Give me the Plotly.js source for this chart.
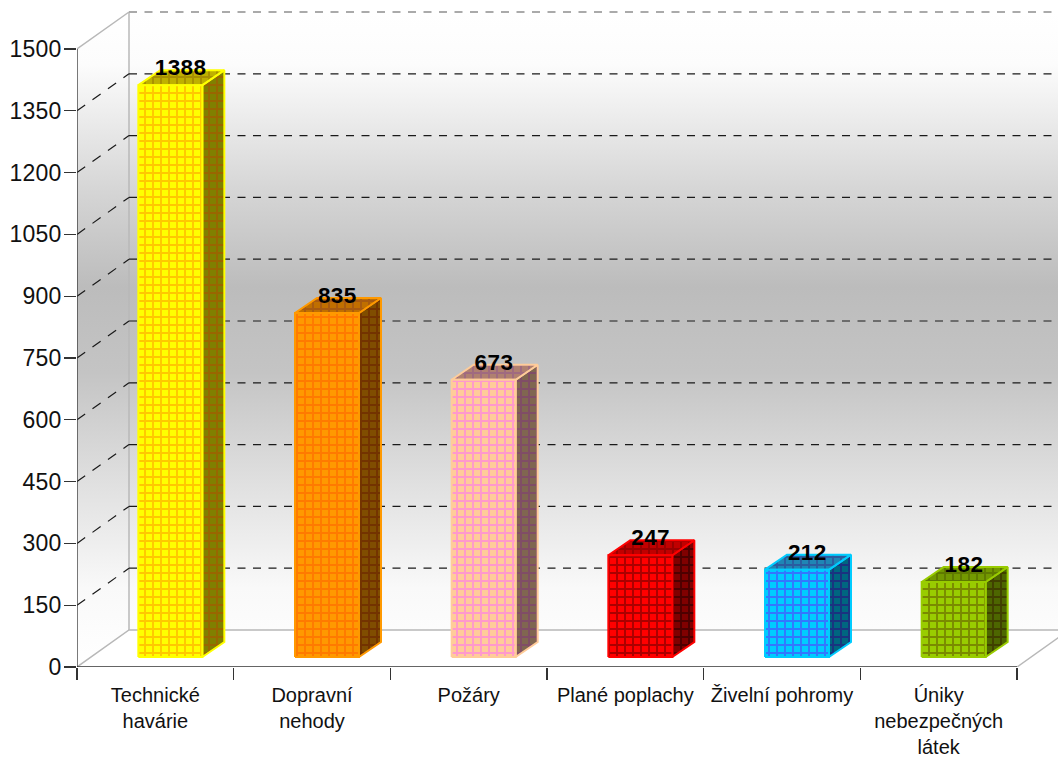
<!DOCTYPE html>
<html><head><meta charset="utf-8">
<script src="https://cdn.plot.ly/plotly-3.0.1.min.js"></script>
<style>html,body{margin:0;padding:0;background:#fff;overflow:hidden}
.textpoint text{letter-spacing:0.4px}
.ytick text{letter-spacing:0.2px}</style>
</head><body><div id="chart" style="width:1058px;height:758px"></div>
<script>
const categories = ["Technické<br>havárie","Dopravní<br>nehody","Požáry","Plané poplachy","Živelní pohromy","Úniky<br>nebezpečných<br>látek"];
const values = [1388,835,673,247,212,182];
const yTicks = [0,150,300,450,600,750,900,1050,1200,1350,1500];

const frontColor = ["#ffff00","#ff9900","#ffcc99","#ff0000","#00ccff","#99cc00"];
const frontGrid  = ["#ffc800","#ff7a00","#ff99cc","#aa0000","#3377ff","#7a8a00"];
const sideColor  = ["#808000","#804d00","#806650","#800000","#006680","#4d6600"];
const sideGrid   = ["#996600","#733300","#804d66","#4d0000","#1a3380","#404000"];
const topColor   = ["#bfb000","#c06f00","#b08070","#c00000","#1f86b5","#739900"];
const topGrid    = ["#a89000","#a85a10","#a06a80","#990000","#2a5ca0","#5f7a00"];

const pxX = 940/6, pxY = 618/1500;
const depthX = 52/pxX, depthY = 37/pxY;
const barW = 64/pxX;
const fx0 = 15/pxX, fy0 = 10/pxY, fx1 = 37/pxX, fy1 = 25/pxY;
const xMax = 981/pxX, yMax = 666/pxY;
const nCat = categories.length, yTop = yTicks[yTicks.length-1];

const wallScale = [[0,"#ffffff"],[0.08,"#fcfcfc"],[0.27,"#d6d6d6"],[0.42,"#bcbcbc"],[0.55,"#c4c4c4"],[0.72,"#e0e0e0"],[0.88,"#f9f9f9"],[1,"#ffffff"]];
const grad = {type:"vertical",colorscale:wallScale,start:yTop+depthY,stop:0};
const base = {hoverinfo:"skip",showlegend:false};
const traces = [];
// left wall
traces.push({...base,type:"scatter",mode:"none",fill:"toself",fillgradient:grad,
  x:[0,depthX,depthX,0],y:[0,depthY,yTop+depthY,yTop]});
// back wall
traces.push({...base,type:"scatter",mode:"none",fill:"toself",fillgradient:grad,
  x:[depthX,nCat+depthX,nCat+depthX,depthX],y:[depthY,depthY,yTop+depthY,yTop+depthY]});
// wall edges
traces.push({...base,type:"scatter",mode:"lines",line:{color:"#b8b8b8",width:1.5},
  x:[0,depthX,nCat+depthX,null,depthX,depthX,null,0,depthX,null,nCat,nCat+depthX],
  y:[0,depthY,depthY,null,depthY,yTop+depthY,null,yTop,yTop+depthY,null,0,depthY]});
// gridlines
const inner = yTicks.slice(1,-1);
traces.push({...base,type:"scatter",mode:"lines",line:{color:"#1a1a1a",width:1.2,dash:"8px,7.5px"},
  x:inner.flatMap(()=>[depthX,nCat+depthX,null]),y:inner.flatMap(t=>[t+depthY,t+depthY,null])});
traces.push({...base,type:"scatter",mode:"lines",line:{color:"#1a1a1a",width:1.2,dash:"10px,9px"},
  x:inner.flatMap(()=>[0,depthX,null]),y:inner.flatMap(t=>[t,t+depthY,null])});
traces.push({...base,type:"scatter",mode:"lines",line:{color:"#aaaaaa",width:2,dash:"8px,7.5px"},
  x:[depthX,nCat+depthX],y:[yTop+depthY,yTop+depthY]});
// bars
const pat=(bg,fg)=>({shape:"+",bgcolor:bg,fgcolor:fg,size:8,solidity:0.42});
values.forEach((v,i)=>{
  const c=i+0.5;
  const x0=c-barW/2+fx0, x1=c+barW/2+fx0, dx=fx1-fx0, dy=fy1-fy0;
  const y0=fy0, y1=v+fy0;
  const poly=(xs,ys,bg,fg)=>traces.push({...base,type:"scatter",mode:"lines",fill:"toself",fillcolor:bg,
    fillpattern:pat(bg,fg),line:{color:frontColor[i],width:2},x:xs,y:ys});
  poly([x1,x1+dx,x1+dx,x1,x1],[y0,y0+dy,y1+dy,y1,y0],sideColor[i],sideGrid[i]);
  poly([x0,x1,x1+dx,x0+dx,x0],[y1,y1,y1+dy,y1+dy,y1],topColor[i],topGrid[i]);
  poly([x0,x1,x1,x0,x0],[y0,y0,y1,y1,y0],frontColor[i],frontGrid[i]);
});
// value labels
traces.push({...base,type:"scatter",mode:"text",cliponaxis:false,
  x:values.map((v,i)=>i+0.5+fx0+(fx1-fx0)*0.4+1.5/pxX),
  y:values.map(v=>v+fy1+0.5/pxY),
  text:values.map(String),textposition:"middle center",
  textfont:{family:"Liberation Sans, Arial, sans-serif",size:22.5,color:"#000",weight:700}});
// axis lines
traces.push({...base,type:"scatter",mode:"lines",cliponaxis:false,line:{color:"#333",width:1.3},
  x:[0,0,nCat],y:[yTop,0,0]});

const layout = {
  width:1058,height:758,autosize:false,
  margin:{l:77,r:0,t:1,b:91,pad:0},
  paper_bgcolor:"#fff",plot_bgcolor:"#fff",showlegend:false,
  font:{family:"Liberation Sans, Arial, sans-serif",color:"#111"},
  xaxis:{type:"linear",range:[0,xMax],showgrid:false,zeroline:false,showline:false,
    tickmode:"array",tickvals:categories.map((_,i)=>i+0.5),ticktext:categories,
    ticks:"",tickangle:0,tickfont:{size:20,color:"#111"},ticklabelstandoff:14,
    minor:{tickmode:"array",tickvals:[0,1,2,3,4,5,6],ticks:"outside",ticklen:12,tickwidth:1.3,tickcolor:"#333",showgrid:false}},
  yaxis:{type:"linear",range:[0,yMax],showgrid:false,zeroline:false,showline:false,
    tickmode:"array",tickvals:yTicks,ticks:"outside",ticklen:12,tickwidth:1.3,tickcolor:"#333",
    tickfont:{size:23,color:"#111"},ticklabelstandoff:-2}
};
Plotly.newPlot("chart",traces,layout,{displayModeBar:false,staticPlot:true});
</script></body></html>
